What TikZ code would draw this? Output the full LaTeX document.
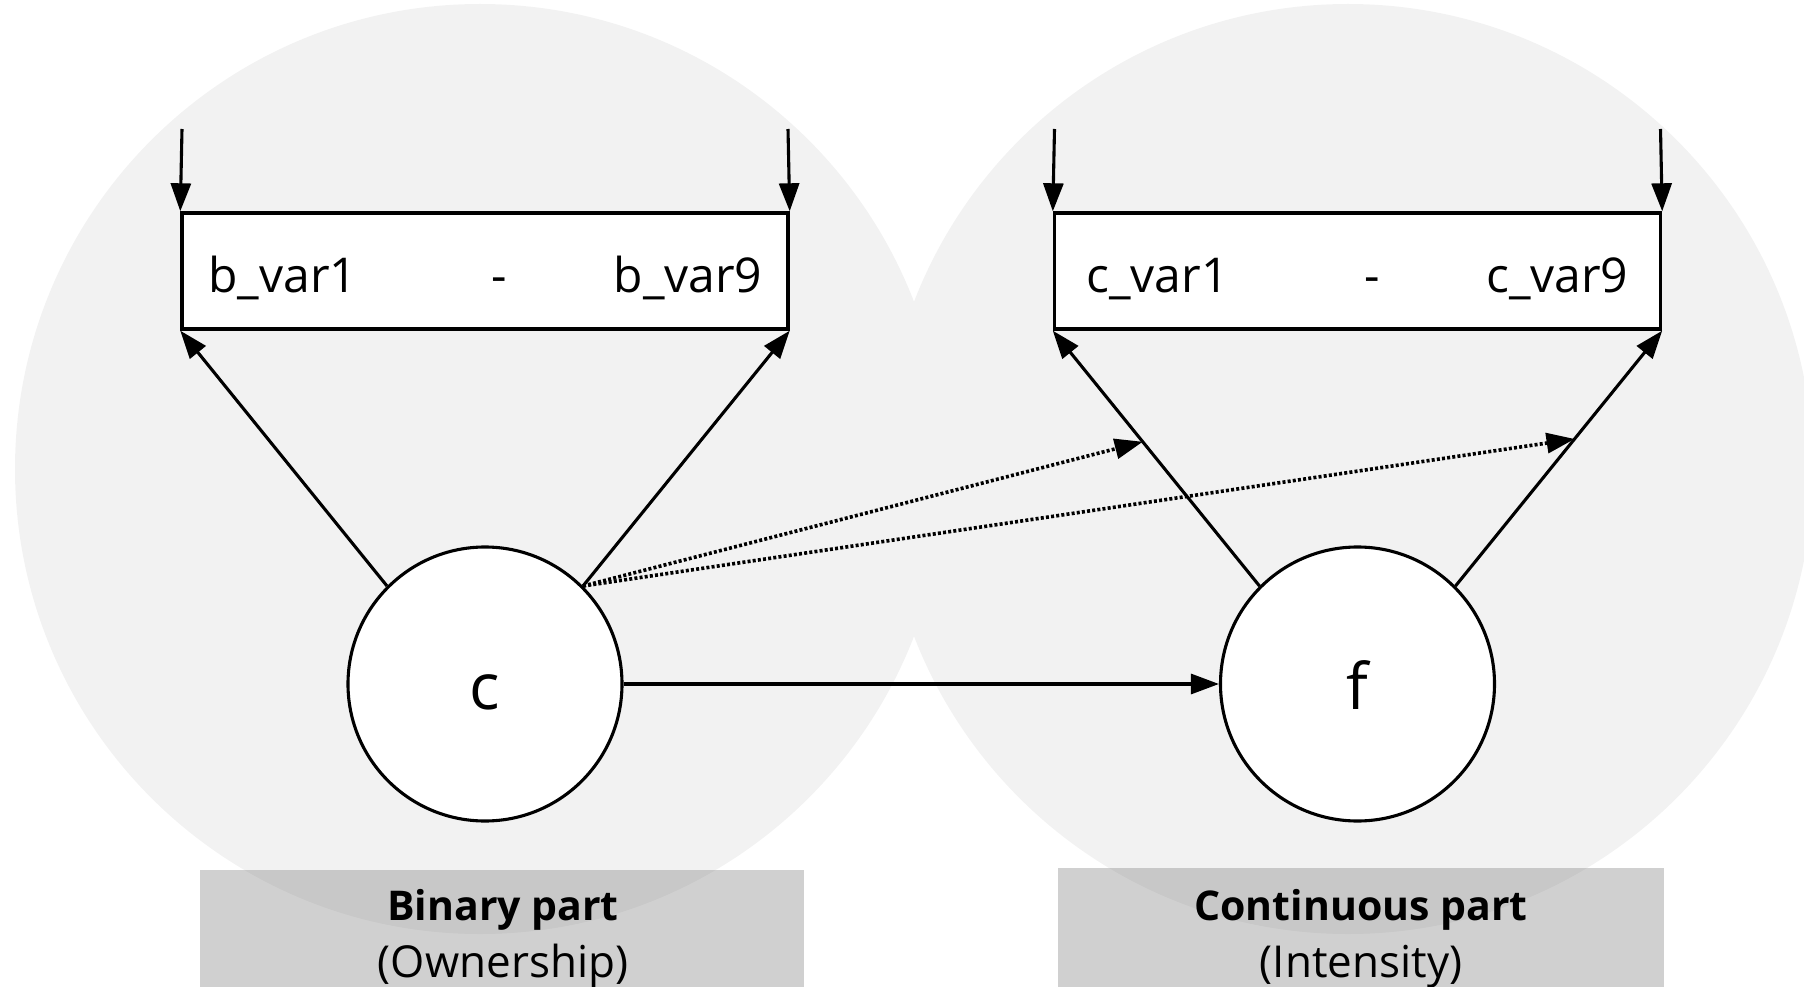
\documentclass[tikz,border=0pt]{standalone}
\usepackage{fontspec}
\setmainfont{Open Sans}
\usetikzlibrary{arrows.meta,calc}
\definecolor{bubble}{RGB}{242,242,242}
\definecolor{tagshade}{RGB}{133,133,133}
\begin{document}
\begin{tikzpicture}[x=1pt,y=-1pt,
  line width=3.1pt,
  arrowed/.style={-{Triangle[length=28pt,width=20pt]}},
  itembox/.style={draw, line width=3.4pt, fill=white, minimum width=606pt, minimum height=116pt, inner sep=0pt},
  latent/.style={draw, fill=white, circle, minimum size=274pt, inner sep=0pt},
  itemtext/.style={font=\fontsize{48}{56}\selectfont, inner sep=0pt},
  lettertext/.style={font=\fontsize{64}{74}\selectfont, inner sep=0pt, anchor=base},
  parttitle/.style={font=\bfseries\fontsize{41}{50}\selectfont, inner sep=0pt, anchor=base},
  partsub/.style={font=\fontsize{44}{50}\selectfont, inner sep=0pt, anchor=base},
  crossload/.style={arrowed, line width=3.6pt, dash pattern=on 3pt off 2.2pt}
]
\useasboundingbox (0,0) rectangle (1804,987);

% two shaded regions
\fill[bubble] (480,469) circle[radius=465];
\fill[bubble] (1348,469) circle[radius=465];

% part captions
\fill[tagshade, fill opacity=0.385] (200,870) rectangle (804,990);
\fill[tagshade, fill opacity=0.385] (1058,868) rectangle (1664,990);
\node[parttitle] (bintitle) at (503,920) {Binary part};
\node[partsub] (binsub) at (503,977) {(Ownership)};
\node[parttitle] (contitle) at (1361,920) {Continuous part};
\node[partsub] (consub) at (1361,977) {(Intensity)};

% indicator boxes
\node[itembox] (bvars) at (485,271) {};
\node[itembox] (cvars) at (1357.5,271) {};
\node[itemtext, anchor=base west] (b1) at (207,292) {b\_var1};
\node[itemtext, anchor=base] (bdash) at (499,292) {-};
\node[itemtext, anchor=base east] (b9) at (764,292) {b\_var9};
\node[itemtext, anchor=base west] (c1) at (1085,292) {c\_var1};
\node[itemtext, anchor=base] (cdash) at (1372,292) {-};
\node[itemtext, anchor=base east] (c9) at (1630,292) {c\_var9};

% latent factors
\node[latent] (c) at (485,684) {};
\node[latent] (f) at (1357.5,684) {};
\node[lettertext] (clab) at (485,709) {c};
\node[lettertext] (flab) at (1357.5,709) {f};

% residual inputs
\coordinate (bin1) at (182,129);
\coordinate (bin9) at (788,129);
\coordinate (cin1) at (1054.5,129);
\coordinate (cin9) at (1660.5,129);
\draw[arrowed] (bin1) -- (bvars.north west);
\draw[arrowed] (bin9) -- (bvars.north east);
\draw[arrowed] (cin1) -- (cvars.north west);
\draw[arrowed] (cin9) -- (cvars.north east);

% loadings
\draw[arrowed] (c.north west) -- (bvars.south west);
\draw[arrowed] (c.north east) -- (bvars.south east);
\draw[arrowed] (f.north west) -- coordinate[pos=0.565] (fl1) (cvars.south west);
\draw[arrowed] (f.north east) -- coordinate[pos=0.576] (fl9) (cvars.south east);

% effects of c
\draw[arrowed] (c.east) -- (f.west);
\draw[crossload] (c.north east) -- (fl1);
\draw[crossload] (c.north east) -- (fl9);
\end{tikzpicture}
\end{document}
